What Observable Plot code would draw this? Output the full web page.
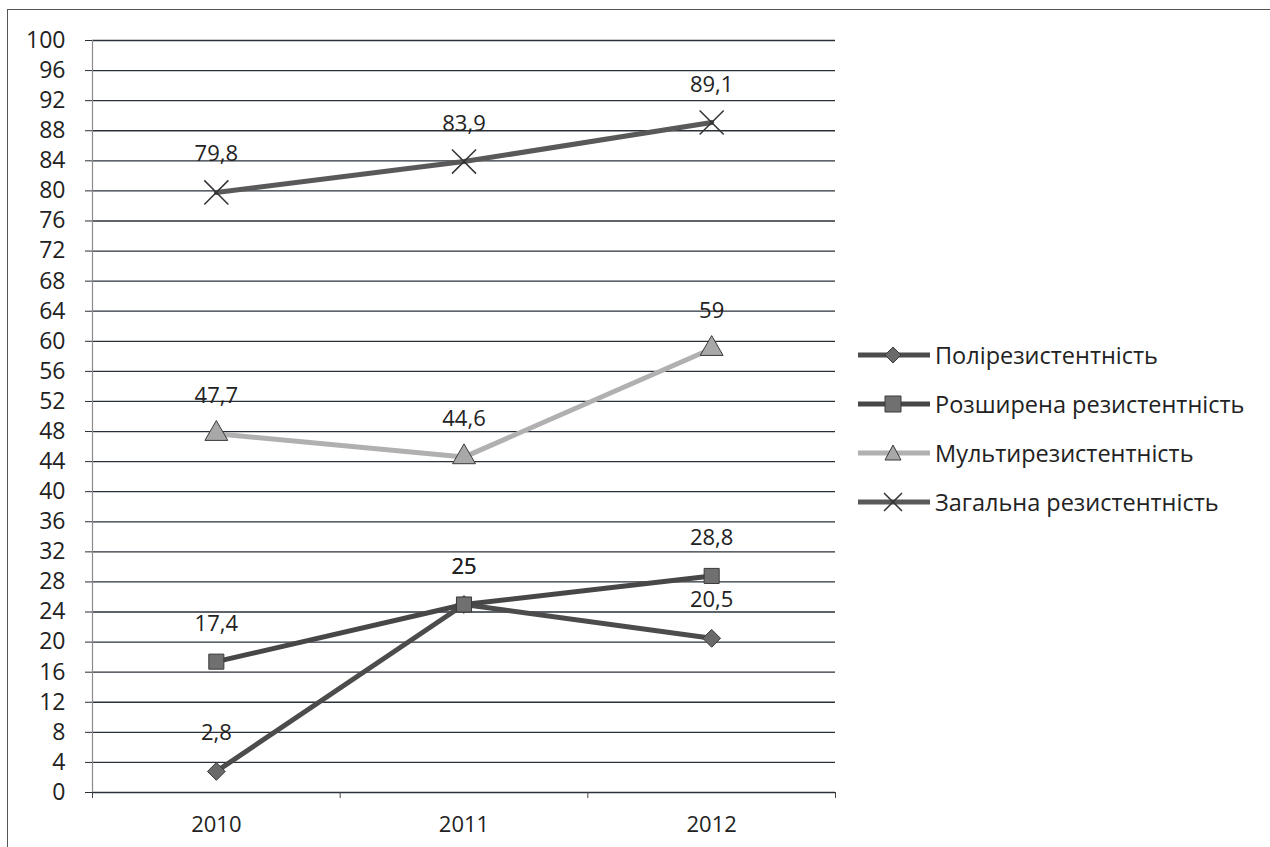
<!DOCTYPE html>
<html>
<head>
<meta charset="utf-8">
<script src="https://cdn.jsdelivr.net/npm/d3@7"></script>
<script src="https://cdn.jsdelivr.net/npm/@observablehq/plot@0.6"></script>
<style>
  html, body { margin: 0; padding: 0; background: #fff; }
  #frame {
    position: relative;
    width: 1270px;
    height: 847px;
    overflow: hidden;
    font-family: "Open Sans", "Noto Sans", sans-serif;
  }
  #border {
    position: absolute;
    left: 7px; top: 9px;
    width: 1280px; height: 860px;
    border-left: 1.5px solid #555;
    border-top: 1.5px solid #555;
    box-sizing: border-box;
  }
  #chart { position: absolute; left: 0; top: 0; }
  #legend {
    position: absolute;
    left: 856px; top: 330px;
    font-size: 23.5px;
    color: #222;
  }
  .item { display: flex; align-items: center; height: 49px; }
  .item svg { margin-right: 3px; }
</style>
</head>
<body>
<div id="frame">
  <div id="border"></div>
  <div id="chart"></div>
  <div id="legend"></div>
</div>
<script>
// Years on the horizontal axis
const years = [2010, 2011, 2012];

// Series names (legend order)
const seriesNames = [
  "Полірезистентність",
  "Розширена резистентність",
  "Мультирезистентність",
  "Загальна резистентність"
];

// Values, % per year
const polyValues = [2.8, 25, 20.5];
const extendedValues = [17.4, 25, 28.8];
const multiValues = [47.7, 44.6, 59];
const totalValues = [79.8, 83.9, 89.1];

// Vertical axis tick labels
const yTicks = [0, 4, 8, 12, 16, 20, 24, 28, 32, 36, 40, 44, 48, 52, 56, 60, 64, 68, 72, 76, 80, 84, 88, 92, 96, 100];

// Boundaries between the year categories (tick marks on the x axis)
const categoryEdges = [2009.5, 2010.5, 2011.5, 2012.5];

// Per-series styling
const styles = {
  "Полірезистентність":       {stroke: "#4c4c4c", symbol: "diamond2", fill: "#6a6a6a", r: 8},
  "Розширена резистентність": {stroke: "#474747", symbol: "square",   fill: "#707070", r: 8.5},
  "Мультирезистентність":     {stroke: "#b0b0b0", symbol: "triangle", fill: "#a8a8a8", r: 8.5},
  "Загальна резистентність":  {stroke: "#595959", symbol: "times",    fill: "none",    r: 11}
};

const valuesBySeries = [polyValues, extendedValues, multiValues, totalValues];
const rows = [];
seriesNames.forEach((name, i) => {
  years.forEach((year, j) => rows.push({series: name, year, value: valuesBySeries[i][j]}));
});

const fmt = v => String(v).replace(".", ",");

const marks = [
  Plot.ruleY(yTicks, {stroke: "#2a3038", strokeWidth: 1.3}),
  Plot.ruleX([2009.5], {y1: 0, y2: 100, stroke: "#8a8a8a", strokeWidth: 1.2}),
  Plot.axisY({ticks: yTicks, tickSize: 7, tickPadding: 20, fontSize: 23, stroke: "#2a3038", label: null, fill: "#222"}),
  Plot.axisX({ticks: categoryEdges, tickSize: 6, tickFormat: () => "", stroke: "#444", label: null}),
  Plot.axisX({ticks: years, tickSize: 0, tickPadding: 24, tickFormat: d => String(d), fontSize: 22, label: null, fill: "#222"})
];

seriesNames.forEach(name => {
  const s = styles[name];
  const data = rows.filter(d => d.series === name);
  marks.push(Plot.line(data, {x: "year", y: "value", stroke: s.stroke, strokeWidth: 5}));
  if (s.symbol === "times") {
    marks.push(Plot.dot(data, {x: "year", y: "value", symbol: "times", r: s.r, stroke: "#333", strokeWidth: 1.5}));
  } else {
    marks.push(Plot.dot(data, {x: "year", y: "value", symbol: s.symbol, r: s.r, fill: s.fill, stroke: "#3a3a3a", strokeWidth: 1}));
  }
});

marks.push(Plot.text(rows, {x: "year", y: "value", text: d => fmt(d.value), dy: -38, fontSize: 22, fill: "#222"}));

const chart = Plot.plot({
  width: 1270,
  height: 847,
  marginLeft: 92,
  marginRight: 435,
  marginTop: 40,
  marginBottom: 55,
  style: {fontFamily: "'Open Sans', 'Noto Sans', sans-serif", background: "transparent", overflow: "visible"},
  x: {type: "linear", domain: [2009.5, 2012.5]},
  y: {domain: [0, 100]},
  marks
});
document.getElementById("chart").appendChild(chart);

// Legend: line segment with the series marker, then the name
const legend = d3.select("#legend");
const symbolPaths = {
  diamond2: "M0,-8L8,0L0,8L-8,0Z",
  square: "M-8,-8H8V8H-8Z",
  triangle: "M0,-8L8,7H-8Z",
  times: "M-9,-9L9,9M9,-9L-9,9"
};
seriesNames.forEach(name => {
  const s = styles[name];
  const item = legend.append("div").attr("class", "item");
  const svg = item.append("svg").attr("width", 76).attr("height", 22);
  svg.append("line").attr("x1", 2).attr("x2", 74).attr("y1", 11).attr("y2", 11)
    .attr("stroke", s.stroke).attr("stroke-width", 5);
  const g = svg.append("g").attr("transform", "translate(37,11)");
  if (s.symbol === "times") {
    g.append("path").attr("d", symbolPaths.times).attr("stroke", "#333").attr("stroke-width", 1.5).attr("fill", "none");
  } else {
    g.append("path").attr("d", symbolPaths[s.symbol]).attr("fill", s.fill).attr("stroke", "#3a3a3a").attr("stroke-width", 1);
  }
  item.append("span").text(name);
});
</script>
</body>
</html>
